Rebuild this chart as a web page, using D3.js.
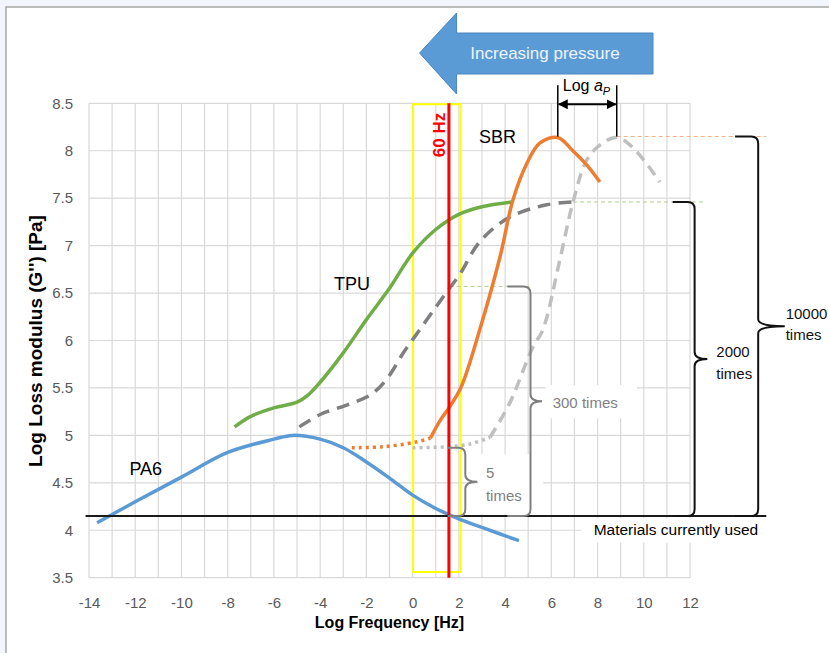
<!DOCTYPE html>
<html>
<head>
<meta charset="utf-8">
<script src="https://cdn.jsdelivr.net/npm/d3@7"></script>
<style>
  body { margin: 0; background: #f2f5fc; }
  svg { display: block; }
  text { font-family: "Liberation Sans", Arial, sans-serif; }
</style>
</head>
<body>
<svg id="chart" width="829" height="653"></svg>
<script>
// axis ticks
const xTickLabels = [-14, -12, -10, -8, -6, -4, -2, 0, 2, 4, 6, 8, 10, 12];
const yTickLabels = [3.5, 4, 4.5, 5, 5.5, 6, 6.5, 7, 7.5, 8, 8.5];

// PA6 (blue)
const pa6X = [-13.65, -12, -10, -8, -6, -5.2, -4, -3, -2, -1, 0, 1, 2, 3, 4.6];
const pa6Y = [4.08, 4.3, 4.56, 4.82, 4.96, 5.0, 4.96, 4.87, 4.72, 4.55, 4.37, 4.23, 4.12, 4.03, 3.89];

// TPU (green)
const tpuX = [-7.7, -7, -6, -5, -4.5, -4, -3, -2, -1, 0, 1, 2, 3, 4.3];
const tpuY = [5.09, 5.2, 5.29, 5.35, 5.43, 5.56, 5.87, 6.22, 6.55, 6.92, 7.17, 7.33, 7.41, 7.46];

// TPU under pressure (dark grey dashed)
const tpuPX = [-4.9, -4, -2.85, -1.8, -1.1, -0.4, 0.3, 1, 1.53, 2.05, 2.9, 4.2, 5.8, 6.9];
const tpuPY = [5.09, 5.22, 5.32, 5.43, 5.6, 5.87, 6.11, 6.35, 6.53, 6.7, 7.04, 7.3, 7.43, 7.46];

// SBR (orange), dotted low part + solid part
const sbrLowX = [-2.63, -1.28, 0.15, 0.77];
const sbrLowY = [4.87, 4.88, 4.93, 4.97];
const sbrX = [0.77, 1.2, 1.6, 2.1, 2.9, 3.78, 4.34, 4.95, 5.5, 6.28, 6.93, 7.53, 8.1];
const sbrY = [4.97, 5.16, 5.3, 5.51, 6.11, 6.88, 7.48, 7.87, 8.08, 8.14, 8.0, 7.85, 7.67];

// SBR under pressure (light grey), dotted low part + dashed part
const sbrPLowX = [0, 1.5, 2.5, 3.35];
const sbrPLowY = [4.87, 4.88, 4.91, 4.98];
const sbrPX = [3.35, 4.2, 5.2, 5.63, 6.37, 6.94, 7.53, 8.1, 8.83, 9.5, 10.7];
const sbrPY = [4.98, 5.34, 5.93, 6.11, 6.85, 7.46, 7.9, 8.06, 8.14, 8.04, 7.67];

// reference levels
const currentLevel = 4.15;
const freq60 = 1.57;
const sbrPeakX = 6.28, sbrPPeakX = 8.83, peakLevel = 8.15;
const tpuTop = 7.46, tpuAt60 = 6.57, sbrPAt60 = 4.87;

const svg = d3.select("#chart");
const W = 829, H = 653;

// panel
svg.append("rect")
  .attr("x", 6).attr("y", 7).attr("width", W).attr("height", H)
  .attr("fill", "#ffffff").attr("stroke", "#a6a6a6").attr("stroke-width", 1.5);

const plotLeft = 89, plotRight = 690, plotTop = 103.3, plotBottom = 577.7;
const x = d3.scaleLinear().domain([-14, 12]).range([plotLeft, plotRight]);
const y = d3.scaleLinear().domain([3.5, 8.5]).range([plotBottom, plotTop]);

// grid
const grid = svg.append("g");
grid.selectAll(".vg").data(d3.range(-14, 13)).enter().append("line")
  .attr("x1", d => x(d)).attr("x2", d => x(d))
  .attr("y1", plotTop).attr("y2", plotBottom)
  .attr("stroke", "#d9d9d9").attr("stroke-width", 1.2);
grid.selectAll(".hg").data(yTickLabels).enter().append("line")
  .attr("x1", plotLeft).attr("x2", plotRight)
  .attr("y1", d => y(d)).attr("y2", d => y(d))
  .attr("stroke", "#d9d9d9").attr("stroke-width", 1.2);

// axes labels
const xAxis = svg.append("g")
  .attr("transform", "translate(0," + plotBottom + ")")
  .call(d3.axisBottom(x).tickValues(xTickLabels).tickSize(0).tickPadding(20)
    .tickFormat(d => String(d)));
const yAxis = svg.append("g")
  .attr("transform", "translate(" + plotLeft + ",0)")
  .call(d3.axisLeft(y).tickValues(yTickLabels).tickSize(0).tickPadding(16)
    .tickFormat(d => String(d)));
[xAxis, yAxis].forEach(a => {
  a.select(".domain").remove();
  a.selectAll("text")
    .attr("fill", "#595959")
    .style("font-size", "15px")
    .style("font-family", "'Liberation Sans', Arial, sans-serif");
});

svg.append("text")
  .attr("x", (plotLeft + plotRight) / 2).attr("y", 628)
  .attr("text-anchor", "middle")
  .attr("font-weight", "bold").attr("font-size", 16)
  .text("Log Frequency [Hz]");
svg.append("text")
  .attr("transform", "translate(42," + 341 + ") rotate(-90)")
  .attr("text-anchor", "middle")
  .attr("font-weight", "bold").attr("font-size", 19)
  .text("Log Loss modulus (G'') [Pa]");

// white label boxes (hide gridlines behind annotations)
function whiteBox(x0, y0, x1, y1) {
  svg.append("rect")
    .attr("x", x0).attr("y", y0).attr("width", x1 - x0).attr("height", y1 - y0)
    .attr("fill", "#ffffff");
}
whiteBox(x(5.75), y(5.53), x(9.7), y(5.18));
whiteBox(x(2.85), y(4.8), x(5.65), y(4.17));
whiteBox(x(7.3), y(4.13), x(15.1), y(3.87));

// yellow frame around 60 Hz
svg.append("rect")
  .attr("x", x(0.02)).attr("y", y(8.49))
  .attr("width", x(2.08) - x(0.02)).attr("height", y(3.56) - y(8.49))
  .attr("fill", "none").attr("stroke", "#ffff00").attr("stroke-width", 2);

// thin dashed reference levels
function hDash(level, x0, x1, color) {
  svg.append("line")
    .attr("x1", x(x0)).attr("x2", x(x1))
    .attr("y1", y(level)).attr("y2", y(level))
    .attr("stroke", color).attr("stroke-width", 1)
    .attr("stroke-dasharray", "4,3");
}
hDash(peakLevel, sbrPPeakX, 15.3, "#f4b183");
hDash(tpuTop, 6.94, 12.65, "#a9d18e");
hDash(tpuAt60, 1.6, 5.05, "#a9d18e");

// curves
const line = d3.line()
  .x(d => x(d[0])).y(d => y(d[1]))
  .curve(d3.curveCatmullRom.alpha(0.5));

function drawCurve(xs, ys, color, width, dash) {
  svg.append("path")
    .datum(d3.zip(xs, ys))
    .attr("d", line)
    .attr("fill", "none")
    .attr("stroke", color)
    .attr("stroke-width", width)
    .attr("stroke-dasharray", dash || null);
}

drawCurve(sbrPLowX, sbrPLowY, "#bfbfbf", 3.5, "3,4");
drawCurve(sbrPX, sbrPY, "#bfbfbf", 3.5, "11,7");
drawCurve(tpuPX, tpuPY, "#7f7f7f", 3.5, "13,8");
drawCurve(pa6X, pa6Y, "#5b9bd5", 3.5);
drawCurve(tpuX, tpuY, "#70ad47", 3.5);
drawCurve(sbrLowX, sbrLowY, "#ed7d31", 3.5, "3,4");
drawCurve(sbrX, sbrY, "#ed7d31", 3.5);

// materials currently used
svg.append("line")
  .attr("x1", x(-14.15)).attr("x2", x(15.3))
  .attr("y1", y(currentLevel)).attr("y2", y(currentLevel))
  .attr("stroke", "#1a1a1a").attr("stroke-width", 2);
svg.append("text")
  .attr("x", x(14.95)).attr("y", 535)
  .attr("text-anchor", "end").attr("font-size", 15.5)
  .text("Materials currently used");

// 60 Hz line
svg.append("line")
  .attr("x1", x(freq60)).attr("x2", x(freq60))
  .attr("y1", plotTop).attr("y2", plotBottom)
  .attr("stroke", "#ff0000").attr("stroke-width", 3);
svg.append("text")
  .attr("transform", "translate(" + (x(freq60) - 4) + ",135) rotate(-90)")
  .attr("text-anchor", "middle")
  .attr("font-weight", "bold").attr("font-size", 17)
  .attr("fill", "#ff0000")
  .text("60 Hz");

// curve labels
svg.append("text").attr("x", x(2.87)).attr("y", 143).attr("font-size", 18).text("SBR");
svg.append("text").attr("x", x(-3.4)).attr("y", 290).attr("font-size", 18).text("TPU");
svg.append("text").attr("x", x(-12.25)).attr("y", 475).attr("font-size", 18).text("PA6");

// braces
function brace(xl, xm, xt, yTopV, yBotV, color) {
  const a = x(xl), m = x(xm), t = x(xt);
  const y0 = y(yTopV), y1 = y(yBotV), ym = (y0 + y1) / 2, r = 7;
  const d = "M" + a + "," + y0 +
    " L" + (m - r) + "," + y0 +
    " Q" + m + "," + y0 + " " + m + "," + (y0 + r) +
    " L" + m + "," + (ym - r) +
    " Q" + m + "," + ym + " " + t + "," + ym +
    " Q" + m + "," + ym + " " + m + "," + (ym + r) +
    " L" + m + "," + (y1 - r) +
    " Q" + m + "," + y1 + " " + (m - r) + "," + y1 +
    " L" + a + "," + y1;
  svg.append("path").attr("d", d)
    .attr("fill", "none").attr("stroke", color).attr("stroke-width", 2);
  return ym;
}
brace(1.53, 2.28, 2.8, sbrPAt60, currentLevel, "#7f7f7f");
brace(4.1, 5.1, 5.6, tpuAt60, currentLevel, "#7f7f7f");
brace(11.25, 12.2, 12.75, tpuTop, currentLevel, "#111111");
brace(13.95, 14.95, 16.1, peakLevel, currentLevel, "#111111");

function label(lines, xv, baselines, color) {
  lines.forEach((s, i) => {
    svg.append("text").attr("x", x(xv)).attr("y", baselines[i])
      .attr("font-size", 15).attr("fill", color).text(s);
  });
}
label(["5", "times"], 3.17, [478, 501], "#7f7f7f");
label(["300 times"], 6.06, [408], "#7f7f7f");
label(["2000", "times"], 13.14, [357, 379], "#111111");
label(["10000", "times"], 16.14, [319, 340], "#111111");

// Log aP shift marker
[sbrPeakX, sbrPPeakX].forEach(v => {
  svg.append("line")
    .attr("x1", x(v)).attr("x2", x(v))
    .attr("y1", y(8.69)).attr("y2", y(peakLevel))
    .attr("stroke", "#000").attr("stroke-width", 1.5);
});
const defs = svg.append("defs");
defs.append("marker").attr("id", "ah")
  .attr("viewBox", "0 0 10 10").attr("refX", 9).attr("refY", 5)
  .attr("markerWidth", 5).attr("markerHeight", 5).attr("orient", "auto-start-reverse")
  .append("path").attr("d", "M0,0 L10,5 L0,10 z").attr("fill", "#000");
svg.append("line")
  .attr("x1", x(sbrPeakX) + 1).attr("x2", x(sbrPPeakX) - 1)
  .attr("y1", y(8.49)).attr("y2", y(8.49))
  .attr("stroke", "#000").attr("stroke-width", 2)
  .attr("marker-start", "url(#ah)").attr("marker-end", "url(#ah)");
const lap = svg.append("text").attr("x", x(sbrPeakX) + 5).attr("y", 91).attr("font-size", 16);
lap.append("tspan").text("Log ");
lap.append("tspan").attr("font-style", "italic").text("a");
lap.append("tspan").attr("font-style", "italic").attr("font-size", 11).attr("dy", 4).text("P");

// Increasing pressure arrow
const ax0 = x(0.3), ax1 = x(1.9), ax2 = x(10.4);
svg.append("polygon")
  .attr("points", [
    [ax0, 53], [ax1, 13], [ax1, 33], [ax2, 33], [ax2, 74], [ax1, 74], [ax1, 94]
  ].map(p => p.join(",")).join(" "))
  .attr("fill", "#5b9bd5").attr("stroke", "#4a86c0").attr("stroke-width", 1);
svg.append("text")
  .attr("x", 545).attr("y", 59)
  .attr("text-anchor", "middle").attr("font-size", 17)
  .attr("fill", "#eef3fa")
  .text("Increasing pressure");
</script>
</body>
</html>
